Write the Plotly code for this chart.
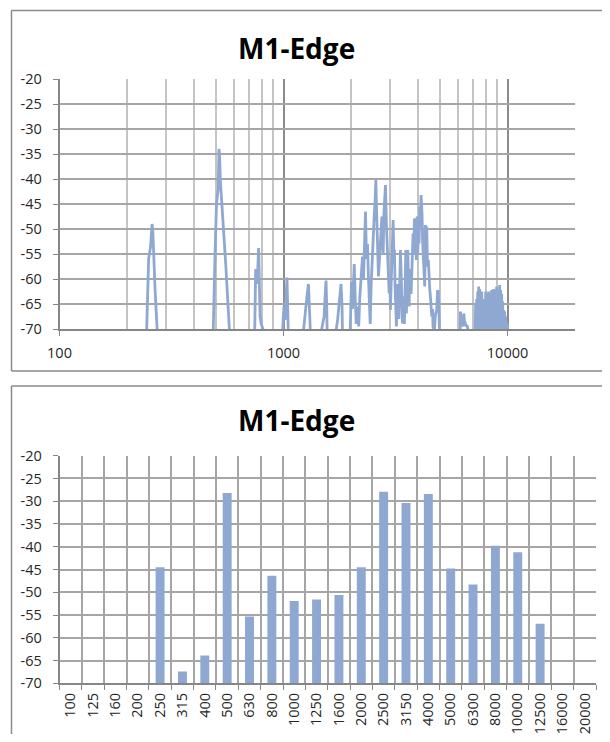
import math
import plotly.graph_objects as go

PAGE_W, PAGE_H = 610, 742
OFF = 8  # page body margin around the figure
W, H = PAGE_W - 2 * OFF, PAGE_H - 2 * OFF
chart_title = "M1-Edge"

# ---------------- Top chart: narrow-band spectrum (Hz, dB) ----------------
spec_freq = [
    240, 245, 250, 253, 255, 259, 261, 267, 274, 280,
    480, 485, 494, 502, 507, 511, 515, 518, 522, 528, 534, 552, 564, 577, 590,
    738, 744, 749, 751, 755, 759, 763, 767, 771, 774, 777, 781, 786, 795, 809, 818,
    985, 991, 994, 1004, 1015, 1025, 1036, 1046, 1053, 1062,
    1220, 1229, 1241, 1254, 1272, 1292, 1306, 1316, 1325,
    1470, 1481, 1496, 1517, 1533, 1548, 1558, 1568, 1578,
    1710, 1720, 1743, 1761, 1780, 1806, 1825, 1836, 1846,
    1955, 1975, 1995, 2012, 2032, 2053, 2068, 2090, 2111, 2140, 2166,
    2188, 2216, 2233, 2252, 2275, 2292, 2322, 2346, 2370, 2395,
    2412, 2437, 2462, 2488, 2513, 2539, 2565, 2583, 2605, 2626,
    2653, 2681, 2708, 2728, 2748, 2770, 2785, 2805, 2822, 2851,
    2881, 2901, 2922, 2940, 2961, 2982, 3001, 3023, 3045, 3070,
    3085, 3107, 3127, 3149, 3172, 3191, 3224, 3247, 3270, 3298,
    3325, 3359, 3393, 3418, 3443, 3464, 3489, 3514, 3536, 3561,
    3587, 3609, 3635, 3661, 3683, 3710, 3737, 3760, 3787, 3814,
    3838, 3865, 3893, 3917, 3945, 3973, 3998, 4027, 4056, 4081,
    4110, 4153, 4174, 4208, 4238, 4268, 4295, 4326, 4357, 4393,
    4430, 4461, 4493, 4539, 4587, 4625, 4648, 4710, 4768, 4827,
    4868, 4908, 4943, 4994, 5045,
    6100, 6118, 6162, 6212, 6264, 6328, 6374, 6440, 6486, 6540, 6593, 6708, 6777,
    7080, 7134, 7171, 7207, 7244, 7282, 7319, 7357, 7395, 7433, 7471,
    7509, 7548, 7587, 7626, 7665, 7704, 7744, 7784, 7824, 7864,
    7904, 7945, 7986, 8027, 8068, 8109, 8151, 8193, 8235, 8277,
    8320, 8363, 8406, 8449, 8493, 8536, 8580, 8624, 8669, 8713,
    8758, 8803, 8848, 8893, 8939, 8985, 9032, 9078, 9125, 9172,
    9219, 9266, 9314, 9362, 9410, 9458, 9507, 9556, 9605, 9654,
    9704, 9754, 9803, 9853, 9904, 9955, 10006, 10057, 10160,
]
spec_db = [
    -80, -70, -56, -54.5, -53.5, -49, -50.5, -62, -70, -80,
    -80, -70, -56, -45, -43.5, -42, -34, -35, -40, -45, -47, -57, -63.5, -70, -80,
    -80, -70, -60, -58, -61, -58.5, -61, -57, -54, -53.8, -57, -62, -67.5, -69, -70, -80,
    -80, -70, -67.5, -65.5, -68.2, -62.9, -59.7, -67.5, -70, -80,
    -80, -70, -68.3, -65.5, -63.5, -61, -68.2, -70, -80,
    -80, -70, -68.5, -67.5, -63.5, -60.3, -64.9, -70, -80,
    -80, -70, -68.2, -65.9, -64.2, -61, -65.5, -70, -80,
    -80, -71, -64, -60.5, -66, -62, -57, -64, -69, -65.5, -69.5,
    -64, -60, -57, -55.5, -60, -52.5, -46.5, -56, -53, -60,
    -63, -69, -61, -55, -50, -47.5, -44, -40.2, -47, -51.5,
    -59.5, -56, -52.9, -49, -47.5, -53, -54.9, -47, -44.9, -41.2,
    -49.5, -53, -56.2, -59, -62.9, -60, -66.2, -61, -57.5, -52,
    -48.2, -55, -54.2, -62, -64.9, -69.5, -61, -64.2, -68, -62.2,
    -54.2, -60.9, -68.9, -66, -63.5, -69, -59.5, -54.2, -66.9, -61.5,
    -54.2, -60, -65.5, -58, -59.2, -63, -56.5, -57.5, -50.9, -55,
    -47.9, -48.2, -53.1, -56.2, -47.5, -54.9, -50.9, -52.9, -45.5, -49.5,
    -43.2, -47, -52.2, -56.2, -60, -61.5, -49.2, -50.9, -49.5, -57.5,
    -56.2, -60.2, -62, -64.2, -67.5, -66, -69.5, -70.5, -67, -66.2,
    -62.5, -62.5, -69.5, -72, -80,
    -80, -71, -66.5, -69.5, -67.9, -69.5, -66.9, -69, -68.9, -69.5, -69.2, -71, -80,
    -80, -69, -70.5, -64.9, -69, -64, -70, -62.5, -68.5, -61.5, -70.5,
    -62, -69, -63, -70, -62.5, -68, -64, -70.5, -64.9, -69.5,
    -64.2, -70, -62.5, -68.5, -63, -70.5, -63.5, -69, -62.5, -70,
    -64.5, -68, -63, -70.5, -62.2, -69, -62.9, -70, -62, -68.5,
    -62.5, -70.5, -62.3, -69, -61.5, -70, -62.5, -68, -62.9, -70.5,
    -61.2, -69, -62.2, -70, -63, -68.5, -64.5, -70.5, -66.2, -69,
    -66.5, -70, -67.5, -70.5, -68.5, -70, -69.2, -71, -80,
]

# ---------------- Bottom chart: 1/3-octave bands ----------------
bands = ["100", "125", "160", "200", "250", "315", "400", "500", "630", "800",
         "1000", "1250", "1600", "2000", "2500", "3150", "4000", "5000", "6300",
         "8000", "10000", "12500", "16000", "20000"]
band_db = [None, None, None, None, -44.5, -67.4, -63.9, -28.2, -55.3, -46.4,
           -51.9, -51.6, -50.6, -44.5, -27.9, -30.4, -28.4, -44.8, -48.3,
           -39.8, -41.2, -56.9, None, None]

y_min, y_max = -70, -20
y_ticks = [-20, -25, -30, -35, -40, -45, -50, -55, -60, -65, -70]
y_tick_text = [str(v) for v in y_ticks]
log_major = [100, 1000, 10000]
log_major_text = ["100", "1000", "10000"]
log_minor = [200, 300, 400, 500, 600, 700, 800, 900,
             2000, 3000, 4000, 5000, 6000, 7000, 8000, 9000, 20000]
log_max = 20000

SERIES = "#8FA8D2"
GRID = "#a6a6a6"
GRID_MINOR = "#c4c4c4"
AXIS = "#868686"
FRAME = "#8a8a8a"
FONT = "Open Sans"
TICKFONT = dict(family=FONT, size=14.5, color="#262626")


def px(x):
    """page pixel x -> paper fraction"""
    return (x - OFF) / W


def py(y):
    """page pixel y -> paper fraction"""
    return 1 - (y - OFF) / H


def frame_lines(top, bottom):
    """Chart-area border: left, top and bottom edges (right edge is off-page)."""
    base = dict(type="line", xref="paper", yref="paper", layer="below",
                line=dict(color=FRAME, width=1.5))
    return [
        dict(base, x0=px(11.5), x1=px(11.5), y0=py(bottom), y1=py(top)),
        dict(base, x0=px(11.5), x1=px(640), y0=py(top), y1=py(top)),
        dict(base, x0=px(11.5), x1=px(640), y0=py(bottom), y1=py(bottom)),
    ]


fig = go.Figure()
fig.add_trace(go.Scatter(x=spec_freq, y=spec_db, mode="lines",
                         line=dict(color=SERIES, width=2.8),
                         xaxis="x", yaxis="y", showlegend=False))
fig.add_trace(go.Bar(x=bands,
                     y=[(v - y_min) if v is not None else None for v in band_db],
                     base=y_min, marker=dict(color=SERIES, line=dict(width=0)),
                     customdata=band_db, hovertemplate="%{x}: %{customdata}<extra></extra>",
                     xaxis="x2", yaxis="y2", showlegend=False))

yaxis_common = dict(range=[y_min, y_max], tickvals=y_ticks, ticktext=y_tick_text,
                    ticks="outside", ticklen=5, tickcolor=AXIS, showgrid=True,
                    gridcolor=GRID, gridwidth=1.5, showline=True, linecolor=AXIS,
                    linewidth=1.5, zeroline=False, tickfont=TICKFONT,
                    ticklabelstandoff=8, automargin=False)

fig.update_layout(
    width=W, height=H, autosize=False,
    margin=dict(l=0, r=0, t=0, b=0, pad=0, autoexpand=False),
    paper_bgcolor="white", plot_bgcolor="white",
    bargap=0.6,
    xaxis=dict(type="log", range=[2, math.log10(log_max)],
               domain=[px(59.5), px(575)], anchor="y",
               tickvals=log_major, ticktext=log_major_text,
               ticks="outside", ticklen=5, tickcolor=AXIS,
               showgrid=True, gridcolor="#8c8c8c", gridwidth=1.5,
               minor=dict(tickvals=log_minor, showgrid=True,
                          gridcolor=GRID_MINOR, gridwidth=1.5),
               showline=True, linecolor=AXIS, linewidth=1.5, zeroline=False,
               tickfont=TICKFONT, ticklabelstandoff=5, automargin=False),
    yaxis=dict(domain=[py(329), py(79)], anchor="x", **yaxis_common),
    xaxis2=dict(type="category", domain=[px(59.5), px(596)], anchor="y2",
                tickson="boundaries", ticks="outside", ticklen=5, tickcolor=AXIS,
                tickangle=-90, showgrid=True, gridcolor=GRID, gridwidth=1.5,
                showline=True, linecolor=AXIS, linewidth=1.5,
                tickfont=TICKFONT, ticklabelstandoff=2, automargin=False),
    yaxis2=dict(domain=[py(683.3), py(455.7)], anchor="x2", **yaxis_common),
    shapes=frame_lines(10.5, 371) + frame_lines(386, 760),
    annotations=[
        dict(text=chart_title, xref="paper", yref="paper", x=px(296), y=py(48),
             xanchor="center", yanchor="middle", showarrow=False,
             font=dict(family=FONT, size=28, color="black", weight="bold")),
        dict(text=chart_title, xref="paper", yref="paper", x=px(296), y=py(420),
             xanchor="center", yanchor="middle", showarrow=False,
             font=dict(family=FONT, size=28, color="black", weight="bold")),
    ],
)

fig.write_html("out.html")
